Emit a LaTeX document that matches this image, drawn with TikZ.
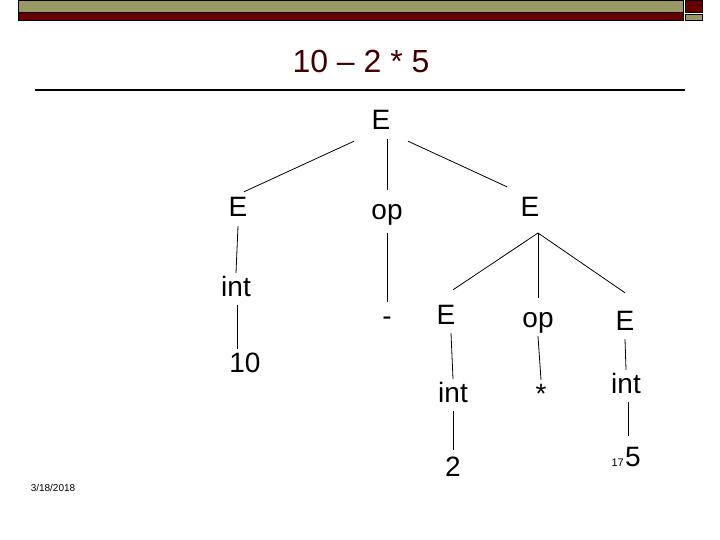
\documentclass[tikz,border=0pt]{standalone}
\usepackage{fontspec}
\setmainfont{Liberation Sans}
\usepackage{tikz}
\usetikzlibrary{positioning}
\usepackage{xcolor}
\definecolor{barolive}{RGB}{153,153,102}
\definecolor{barred}{RGB}{102,0,0}
\definecolor{headred}{RGB}{64,0,0}
\tikzstyle{sym}     = [rectangle, inner sep=3pt, text height=20pt, text depth=6pt, font=\fontsize{28}{30}\selectfont]
\tikzstyle{heading} = [font=\fontsize{32}{36}\selectfont, text=headred]
\tikzstyle{footer}  = [inner sep=0pt, font=\fontsize{10}{12}\selectfont]
\tikzstyle{branch}  = [line width=0.8pt]

\begin{document}
\begin{tikzpicture}[x=1pt, y=-1pt, on grid]
            \useasboundingbox (0,0) rectangle (720,540);

            % slide frame
            \draw[fill=barolive] (18,0) rectangle (683,12);
            \draw[fill=barred]   (18,12) rectangle (683,20);
            \draw[fill=barred]   (685,0) rectangle (702,12);
            \draw[fill=barolive] (685,14) rectangle (702,20);
            \draw[line width=1.2pt] (35,90) -- (685,90);

            \node[heading] (expr)  at (361,61) {10 – 2 * 5};

            % parse tree
            \node[sym] (root)  at (381,123) {E};
            \node[sym] (e1)    [below left=87pt and 143pt of root] {E};
            \node[sym] (op1)   [below right=90pt and 6pt of root] {op};
            \node[sym] (e2)    [below right=86pt and 149pt of root] {E};
            \node[sym] (int1)  [below left=79pt and 2pt of e1] {int};
            \node[sym] (ten)   [below right=76pt and 9pt of int1] {10};
            \node[sym] (minus) [below=105pt of op1] {-};
            \coordinate[below right=24pt and 8pt of e2] (fork);
            \node[sym] (e3)    [below left=108pt and 84pt of e2] {E};
            \node[sym] (op2)   [below right=111pt and 8pt of e2] {op};
            \node[sym] (e4)    [below right=114pt and 95pt of e2] {E};
            \node[sym] (int2)  [below right=78pt and 7pt of e3] {int};
            \node[sym] (two)   [below=74pt of int2] {2};
            \node[sym] (star)  [below right=76pt and 3pt of op2] {*};
            \node[sym] (int3)  [below right=63pt and 1pt of e4] {int};
            \node[sym] (five)  [below right=73pt and 7pt of int3] {5};

            \node[footer, anchor=base east, font=\fontsize{11}{12}\selectfont] (pgno) at ([xshift=2pt]five.base west) {17};
            \node[footer] (date) at (53,488) {3/18/2018};

            \draw[branch] ([shift={(-27pt,-2pt)}]root.south) -- ([shift={(6pt,2pt)}]e1.north);
            \draw[branch, shorten >=7pt] (op1.north |- root.south) -- (op1.north);
            \draw[branch] ([shift={(27pt,-2pt)}]root.south) -- ([shift={(-23pt,6pt)}]e2.north);
            \draw[branch] (e1.south) -- (int1.north);
            \draw[branch] ([xshift=1pt]int1.south) -- ([xshift=1pt]int1.south |- ten.north);
            \draw[branch, shorten <=4pt] (op1.south) -- (minus.north);
            \draw[branch] (fork) -- ([shift={(7pt,11pt)}]e3.north);
            \draw[branch] (fork) -- ([yshift=6pt]op2.north);
            \draw[branch] (fork) -- ([yshift=14pt]e4.north);
            \draw[branch] ([xshift=5pt]e3.south) -- (int2.north);
            \draw[branch, shorten >=3pt] (int2.south) -- (two.north);
            \draw[branch] (op2.south) -- (star.north);
            \draw[branch] (e4.south) -- (int3.north);
            \draw[branch, shorten >=7pt] ([xshift=2pt]int3.south) -- ([xshift=2pt]int3.south |- five.north);
        \end{tikzpicture}
\end{document}
